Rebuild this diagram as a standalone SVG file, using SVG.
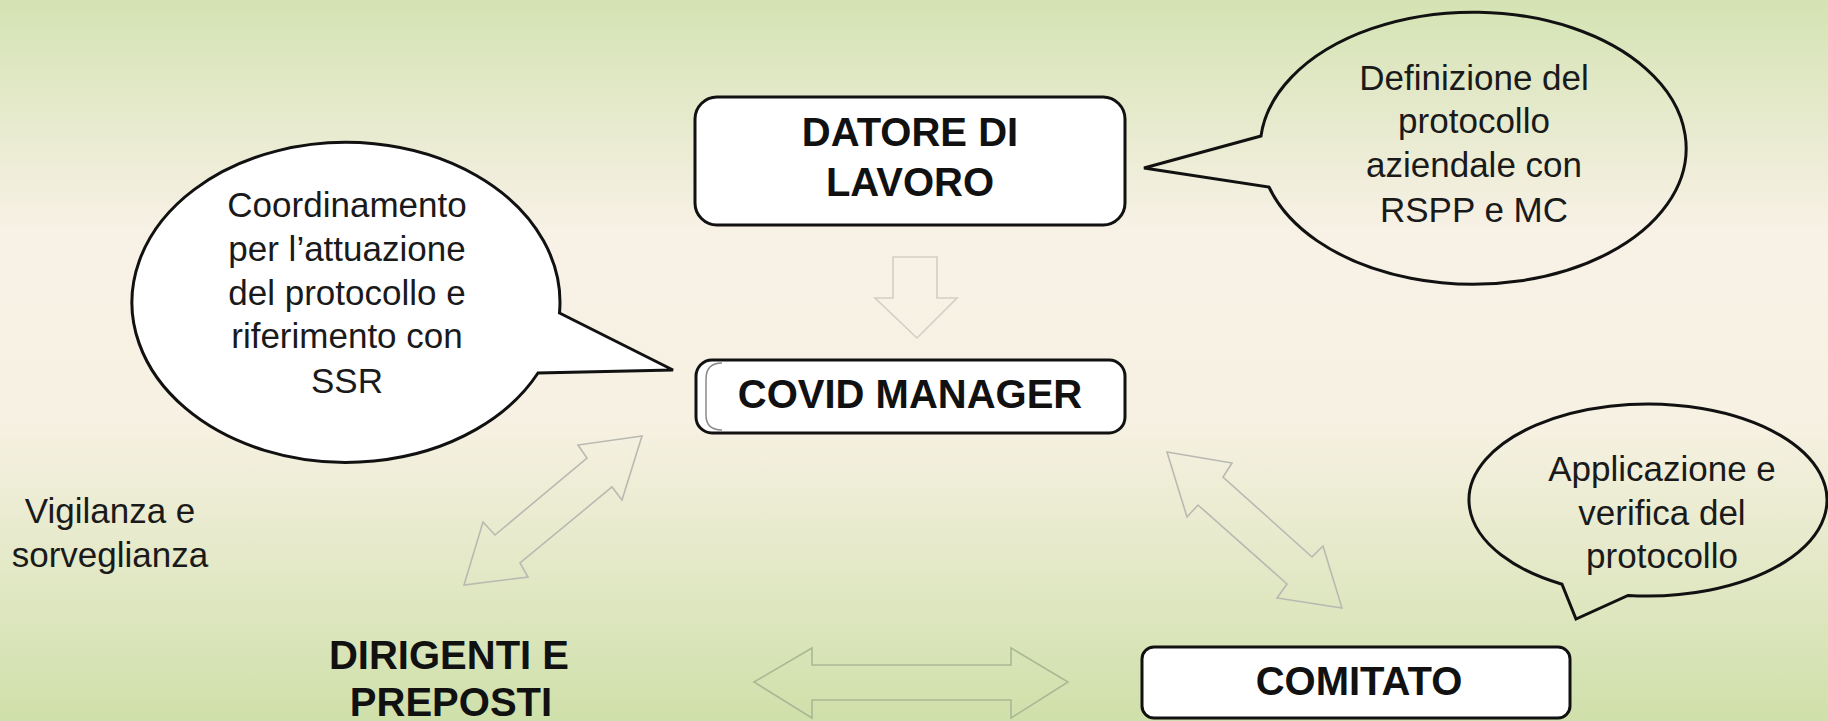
<svg xmlns="http://www.w3.org/2000/svg" width="1828" height="721" viewBox="0 0 1828 721">
  <defs>
    <linearGradient id="bg" x1="0" y1="0" x2="0" y2="1">
      <stop offset="0" stop-color="#d4e3b3"/>
      <stop offset="0.32" stop-color="#f8f1e6"/>
      <stop offset="0.58" stop-color="#f7f1e3"/>
      <stop offset="1" stop-color="#cfe0aa"/>
    </linearGradient>
    <style>
      .box { fill: #ffffff; stroke: #111111; stroke-width: 3; }
      .bubble { stroke: #111111; stroke-width: 3; stroke-linejoin: miter; }
      .t { font-family: "Liberation Sans", Arial, sans-serif; fill: #1a1a1a; text-anchor: middle; }
      .n { font-size: 35px; }
      .b { font-size: 40px; font-weight: bold; fill: #111111; }
      .arr { fill: none; stroke-width: 1.6; stroke-linejoin: miter; }
    </style>
  </defs>
  <rect x="0" y="0" width="1828" height="721" fill="url(#bg)"/>

  <g id="connectors">
    <polygon class="arr" stroke="#d3cec6" points="893,257 937,257 937,298 957,298 917,338 875,298 893,298"/>
    <polygon class="arr" stroke="#b9b9b2" points="642,436 578,445 587,458 495,535 483,522 464,585 528,577 520,563 612,487 622,500"/>
    <polygon class="arr" stroke="#b9b9b2" points="1167,452 1232,463 1223,477 1312,557 1323,546 1342,608 1277,598 1287,584 1198,505 1187,517"/>
    <polygon class="arr" stroke="#aab894" points="754,682 812,648 812,665 1011,665 1011,648 1068,682 1011,718 1011,700 812,700 812,718"/>
  </g>

  <g id="datore">
    <rect class="box" x="695" y="97" width="430" height="128" rx="22"/>
    <text class="t b" x="910" y="146">DATORE DI</text>
    <text class="t b" x="910" y="196">LAVORO</text>
  </g>

  <g id="covid-manager">
    <rect class="box" x="696" y="360" width="429" height="73" rx="16"/>
    <path d="M 722,363 Q 706,363 706,379 L 706,415 Q 706,430 722,430" fill="none" stroke="#8a8a8a" stroke-width="1.5"/>
    <text class="t b" x="910" y="408">COVID MANAGER</text>
  </g>

  <g id="comitato">
    <rect class="box" x="1142" y="647" width="428" height="71" rx="12"/>
    <text class="t b" x="1359" y="695">COMITATO</text>
  </g>

  <g id="dirigenti">
    <text class="t b" x="449" y="669">DIRIGENTI E</text>
    <text class="t b" x="451" y="716">PREPOSTI</text>
  </g>

  <g id="vigilanza">
    <text class="t n" x="110" y="523">Vigilanza  e</text>
    <text class="t n" x="110" y="567">sorveglianza</text>
  </g>

  <g id="bubble-definizione">
    <path class="bubble" fill="none" d="M 1261,136 A 213 136 0 1 1 1269,187 L 1144,168 Z"/>
    <text class="t n" x="1474" y="90">Definizione  del</text>
    <text class="t n" x="1474" y="133">protocollo</text>
    <text class="t n" x="1474" y="177">aziendale con</text>
    <text class="t n" x="1474" y="222">RSPP e MC</text>
  </g>

  <g id="bubble-coordinamento">
    <path class="bubble" fill="#ffffff" d="M 559.5,313 L 673,370 L 538,373 A 214 160 0 1 1 559.5,313 Z"/>
    <text class="t n" x="347" y="217">Coordinamento</text>
    <text class="t n" x="347" y="261">per l’attuazione</text>
    <text class="t n" x="347" y="305">del protocollo e</text>
    <text class="t n" x="347" y="348">riferimento con</text>
    <text class="t n" x="347" y="393">SSR</text>
  </g>

  <g id="bubble-applicazione">
    <path class="bubble" fill="none" d="M 1628,595.4 A 179 96 0 1 0 1562,584.2 L 1576,619 Z"/>
    <text class="t n" x="1662" y="481">Applicazione e</text>
    <text class="t n" x="1662" y="525">verifica del</text>
    <text class="t n" x="1662" y="568">protocollo</text>
  </g>
</svg>
